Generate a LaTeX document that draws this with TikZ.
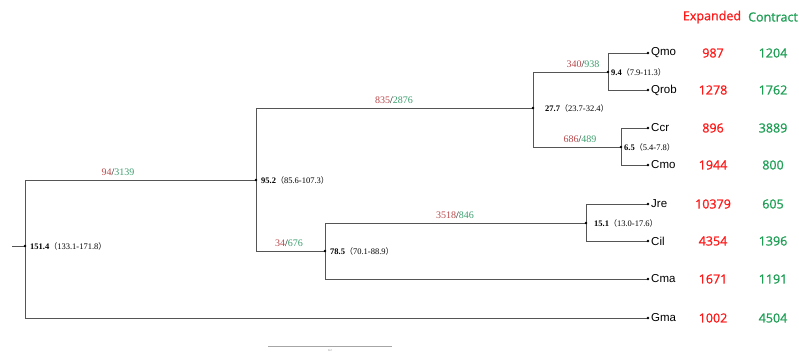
\documentclass[tikz,border=0pt]{standalone}
\usepackage{fontspec}
\setmainfont{Liberation Serif}
\setsansfont{Liberation Sans}
\newfontfamily\numfont[RawFeature={embolden=1.0}]{Open Sans}
\newfontfamily\cjkfont{Noto Sans CJK SC}
\definecolor{brred}{HTML}{B8474A}
\definecolor{brgreen}{HTML}{3C9E6E}
\definecolor{nred}{HTML}{FF1A1A}
\definecolor{ngreen}{HTML}{1E9E55}
\definecolor{treeline}{HTML}{555555}
\newcommand\nodelab[2]{\textbf{#1}{\cjkfont\fontsize{8}{9}\selectfont （}#2{\cjkfont\fontsize{8}{9}\selectfont ）}}
\newcommand\brlab[2]{\textcolor{brred}{#1}/\textcolor{brgreen}{#2}}
\tikzset{
  branch/.style={draw=treeline, line width=0.9pt},
  nlabel/.style={anchor=west, inner sep=0pt, font=\fontsize{8.5}{10}\selectfont, text=black},
  blabel/.style={anchor=south, inner sep=0pt, font=\fontsize{10}{12}\selectfont},
  leaflab/.style={anchor=west, inner sep=0pt, font=\sffamily\fontsize{11.5}{13}\selectfont},
  exnum/.style={inner sep=0pt, text=nred, font=\numfont\fontsize{12.5}{14}\selectfont},
  conum/.style={inner sep=0pt, text=ngreen, font=\numfont\fontsize{12.5}{14}\selectfont},
  dotmark/.style={fill=black},
}
\begin{document}
\begin{tikzpicture}[x=1pt,y=-1pt]
\useasboundingbox (0,0) rectangle (799,353);
% coordinates
\coordinate (stub) at (12,246);
\coordinate (root) at (25,246);
\coordinate (n95) at (256,180);
\coordinate (n27) at (533,108);
\coordinate (n9) at (608,72);
\coordinate (n6) at (621,147);
\coordinate (n78) at (325,251);
\coordinate (n15) at (586,223);
\coordinate (Qmo) at (648,53);
\coordinate (Qrob) at (648,90);
\coordinate (Ccr) at (648,128);
\coordinate (Cmo) at (648,165);
\coordinate (Jre) at (648,204);
\coordinate (Cil) at (648,241);
\coordinate (Cma) at (648,279);
\coordinate (Gma) at (648,318);
% branches
\draw[branch] (stub) -- (root);
\draw[branch] (root) |- (n95);
\draw[branch] (root) |- (Gma);
\draw[branch] (n95) |- (n27);
\draw[branch] (n95) |- (n78);
\draw[branch] (n27) |- (n9);
\draw[branch] (n27) |- (n6);
\draw[branch] (n9) |- (Qmo);
\draw[branch] (n9) |- (Qrob);
\draw[branch] (n6) |- (Ccr);
\draw[branch] (n6) |- (Cmo);
\draw[branch] (n78) |- (n15);
\draw[branch] (n78) |- (Cma);
\draw[branch] (n15) |- (Jre);
\draw[branch] (n15) |- (Cil);
% dots
\foreach \p in {root,n95,n27,n9,n6,n78,n15,Qmo,Qrob,Ccr,Cmo,Jre,Cil,Cma,Gma}
  \fill[dotmark] (\p) circle (1.4pt);
% node labels
\node[nlabel] (l151) at ([xshift=5pt]root) {\nodelab{151.4}{133.1-171.8}};
\node[nlabel] (l95) at ([xshift=5pt]n95) {\nodelab{95.2}{85.6-107.3}};
\node[nlabel] (l27) at ([xshift=12pt]n27) {\nodelab{27.7}{23.7-32.4}};
\node[nlabel] (l9) at ([xshift=3pt]n9) {\nodelab{9.4}{7.9-11.3}};
\node[nlabel] (l6) at ([xshift=3pt]n6) {\nodelab{6.5}{5.4-7.8}};
\node[nlabel] (l78) at ([xshift=5pt]n78) {\nodelab{78.5}{70.1-88.9}};
\node[nlabel] (l15) at ([xshift=8pt]n15) {\nodelab{15.1}{13.0-17.6}};
% branch labels
\node[blabel] (b94) at (118,176) {\brlab{94}{3139}};
\node[blabel] (b835) at (394,104) {\brlab{835}{2876}};
\node[blabel] (b340) at (583,68) {\brlab{340}{938}};
\node[blabel] (b686) at (580,143) {\brlab{686}{489}};
\node[blabel] (b34) at (289,247) {\brlab{34}{676}};
\node[blabel] (b3518) at (455,219) {\brlab{3518}{846}};
% leaf labels and numbers
\foreach \p/\t/\e/\c in {Qmo/Qmo/987/1204, Qrob/Qrob/1278/1762, Ccr/Ccr/896/3889, Cmo/Cmo/1944/800, Jre/Jre/10379/605, Cil/Cil/4354/1396, Cma/Cma/1671/1191, Gma/Gma/1002/4504}{
  \node[leaflab] (t\p) at ([xshift=3pt]\p) {\t};
  \node[exnum] (e\p) at ([xshift=65pt]\p) {\e};
  \node[conum] (c\p) at ([xshift=125pt]\p) {\c};
}
% header
\node[exnum] (hexp) at (712,17) {Expanded};
\node[conum] (hcon) at (773,17) {Contract};
% scale bar
\coordinate (sb1) at (268,346);
\coordinate (sb2) at (392,346);
\draw[draw=gray!70, line width=0.6pt] (sb1) -- (sb2);
\node[inner sep=0pt, text=gray, font=\fontsize{3}{4}\selectfont] (sblab) at (330,351) {0.2};
\end{tikzpicture}
\end{document}
